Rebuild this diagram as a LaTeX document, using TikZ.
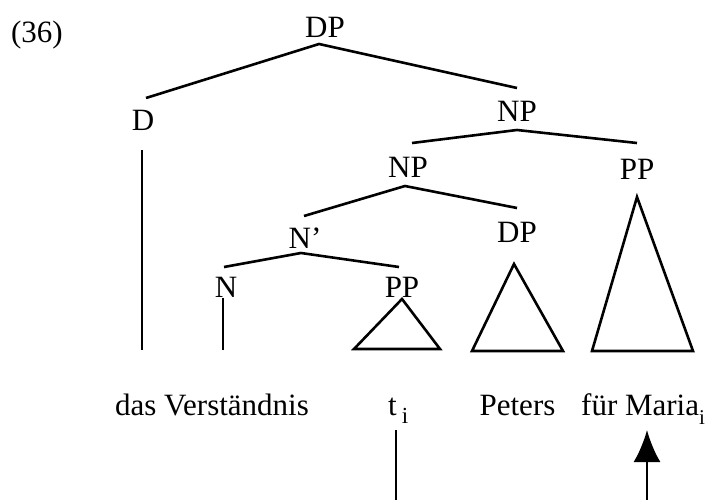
\documentclass[tikz,border=0pt]{standalone}
\usepackage{fontspec}
\setmainfont{Liberation Serif}
\usetikzlibrary{arrows.meta}
\begin{document}
\begin{tikzpicture}[x=1pt,y=-1pt,
  lbl/.style={font=\fontsize{31}{36}\selectfont, anchor=base, inner sep=0pt},
  branch/.style={line width=2.6pt, line cap=butt},
  tri/.style={line width=2.6pt, line join=miter}]
\useasboundingbox (0,0) rectangle (710,500);

% example number
\node[lbl] (num) at (37,43) {(36)};

% category labels
\node[lbl] (dp)   at (325,38)  {DP};
\node[lbl] (d)    at (143,131) {D};
\node[lbl] (np1)  at (517,122) {NP};
\node[lbl] (np2)  at (408,178) {NP};
\node[lbl] (pp1)  at (637,180) {PP};
\node[lbl] (nbar) at (305,248) {N’};
\node[lbl] (dp2)  at (517,242) {DP};
\node[lbl] (n)    at (226,297) {N};
\node[lbl] (pp2)  at (402,297) {PP};

% terminal strings
\node[lbl] (w1) at (212,415) {das Verständnis};
\node[lbl, anchor=base west] (w2) at (388,415) {t\,\raisebox{-8pt}{\fontsize{23}{26}\selectfont i}};
\node[lbl] (w3) at (517.5,415) {Peters};
\node[lbl, anchor=base west] (w4) at (581,415) {für Maria\raisebox{-9pt}{\fontsize{21}{24}\selectfont i}};

% branch end points
\coordinate (dp-top) at (319,44);
\coordinate (d-up)   at (146,98);
\coordinate (np1-up) at (517,88);
\coordinate (np1-top) at (517,130);
\coordinate (np2-up) at (412,143);
\coordinate (pp1-up) at (637,143);
\coordinate (np2-top) at (405,186);
\coordinate (nbar-up) at (304,216);
\coordinate (dp2-up) at (517,208);
\coordinate (nbar-top) at (301,253);
\coordinate (n-up)   at (224,267);
\coordinate (pp2-up) at (399,267);

% vertical lines to the words
\coordinate (d-low)  at (142,150);
\coordinate (d-end)  at (142,350);
\coordinate (n-low)  at (223,298);
\coordinate (n-end)  at (223,350);

% movement link
\coordinate (t-low)  at (396,430);
\coordinate (t-end)  at (396,500);
\coordinate (m-tip)  at (647,430);
\coordinate (m-end)  at (647,500);

% tree branches
\draw[branch] (d-up) -- (dp-top) -- (np1-up);
\draw[branch] (np2-up) -- (np1-top) -- (pp1-up);
\draw[branch] (nbar-up) -- (np2-top) -- (dp2-up);
\draw[branch] (n-up) -- (nbar-top) -- (pp2-up);
\draw[branch] (d-low) -- (d-end);
\draw[branch] (n-low) -- (n-end);

% roof triangles
\draw[tri] (402,299) -- (440,349) -- (354,349) -- cycle;
\draw[tri] (514,264) -- (563,351) -- (472,351) -- cycle;
\draw[tri] (637,197) -- (693,351) -- (592,351) -- cycle;

% trace line and arrow to the moved phrase
\draw[branch] (t-low) -- (t-end);
\draw[branch, -{Latex[length=32pt,width=27pt]}] (m-end) -- (m-tip);
\end{tikzpicture}
\end{document}
